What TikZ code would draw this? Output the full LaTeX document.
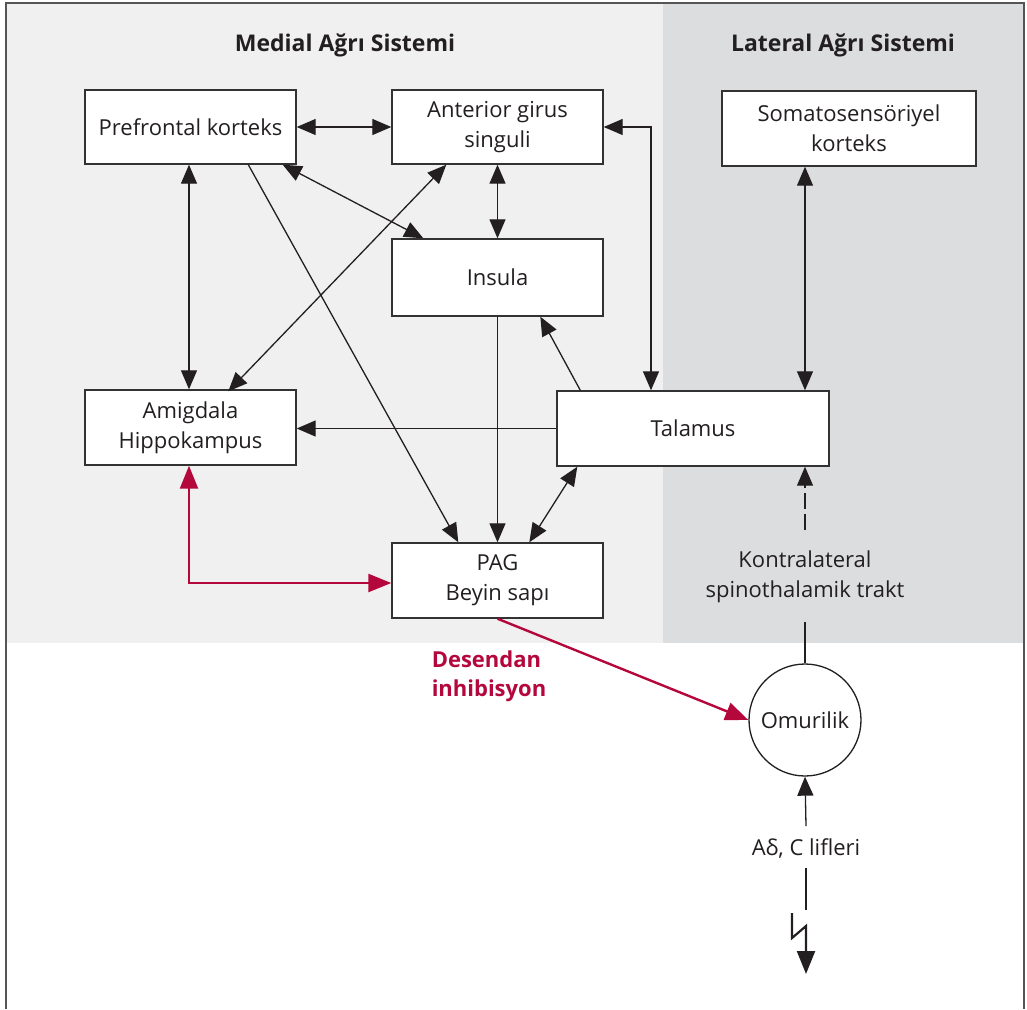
\documentclass[tikz,border=0pt]{standalone}
\usepackage{fontspec}
\setmainfont{Open Sans}
\usetikzlibrary{arrows.meta}
\definecolor{medbg}{RGB}{240,240,240}
\definecolor{latbg}{RGB}{220,221,223}
\definecolor{framec}{RGB}{85,85,85}
\definecolor{boxc}{RGB}{50,50,50}
\definecolor{txt}{RGB}{35,31,32}
\definecolor{redc}{RGB}{180,8,60}
\tikzset{
  boxn/.style={draw=boxc, line width=1.4pt, fill=white, inner sep=0pt, align=center,
    text=txt, font=\fontsize{22}{30}\selectfont},
  lbl/.style={inner sep=0pt, align=center, text=txt, font=\fontsize{22}{30}\selectfont},
  ttl/.style={inner sep=0pt, text=txt, font=\fontsize{23}{28}\selectfont\bfseries},
  con/.style={draw=txt, line width=1.3pt},
  arr/.style={con, -{Triangle[length=19pt,width=16pt]}},
  darr/.style={con, {Triangle[length=19pt,width=16pt]}-{Triangle[length=19pt,width=16pt]}},
  rarr/.style={draw=redc, line width=2.4pt, -{Triangle[length=23pt,width=18pt]}},
  rdarr/.style={draw=redc, line width=2.4pt, {Triangle[length=23pt,width=18pt]}-{Triangle[length=23pt,width=18pt]}},
}
\begin{document}
\begin{tikzpicture}[x=1pt,y=-1pt]
\useasboundingbox (0,0) rectangle (1027,1009);
% backgrounds
\fill[medbg] (6,3) rectangle (663,643);
\fill[latbg] (663,3) rectangle (1024,643);
\draw[framec, line width=2pt] (6,1009) -- (6,3) -- (1024,3) -- (1024,1009);
% titles
\node[ttl] (tmed) at (345,45) {Medial Ağrı Sistemi};
\node[ttl] (tlat) at (843,45) {Lateral Ağrı Sistemi};
% boxes
\node[boxn, minimum width=211pt, minimum height=74pt] (pfk) at (190.5,127) {Prefrontal korteks};
\node[boxn, minimum width=211pt, minimum height=74pt] (agc) at (497.5,127) {Anterior girus\\singuli};
\node[boxn, minimum width=254pt, minimum height=75pt] (som) at (849,128.5) {Somatosensöriyel\\korteks};
\node[boxn, minimum width=211pt, minimum height=77pt] (ins) at (497.5,277.5) {Insula};
\node[boxn, minimum width=211pt, minimum height=75pt] (amy) at (190.5,427.5) {Amigdala\\Hippokampus};
\node[boxn, minimum width=272pt, minimum height=75pt] (tal) at (693,428.5) {Talamus};
\node[boxn, minimum width=211pt, minimum height=75pt] (pag) at (497.5,580.5) {PAG\\Beyin sapı};
\node[draw=txt, line width=1.3pt, fill=white, circle, minimum size=112pt, inner sep=0pt,
  text=txt, font=\fontsize{22}{30}\selectfont] (omu) at (805,720) {Omurilik};
% labels
\node[lbl] (ktr) at (805,577) {Kontralateral\\spinothalamik trakt};
\node[lbl] (afib) at (806,848) {Aδ, C lifleri};
\node[inner sep=0pt, align=left, text=redc, font=\fontsize{22}{29}\selectfont\bfseries] (desc) at (489,676) {Desendan\\inhibisyon};
% coordinates
\coordinate (k1) at (805,530);
\coordinate (k2) at (805,622);
\coordinate (a1) at (806,826);
\coordinate (a2) at (806,868);
\coordinate (a3) at (806,910);
\coordinate (z1) at (792,913);
\coordinate (z2) at (792,938);
\coordinate (z3) at (806,926);
\coordinate (z4) at (806,974);
% black connectors
\draw[darr] (pfk.east) -- (agc.west);
\draw[darr] ([xshift=-1.5pt]pfk.south) -- ([xshift=-1.5pt]amy.north);
\draw[arr] ([xshift=164pt]pfk.south west) -- ([xshift=67pt]pag.north west);
\draw[darr] ([xshift=-14pt]pfk.south east) -- ([xshift=32pt]ins.north west);
\draw[darr] ([xshift=55pt]agc.south west) -- ([xshift=144pt,yshift=-2pt]amy.north west);
\draw[darr] (agc.south) -- (ins.north);
\draw[darr] (agc.east) -| ([xshift=-42pt]tal.north);
\draw[arr] ([xshift=24pt]tal.north west) -- ([xshift=149pt]ins.south west);
\draw[arr] (tal.west) -- (tal.west -| amy.east);
\draw[darr] ([xshift=21pt]tal.south west) -- ([xshift=138pt]pag.north west);
\draw[arr] (ins.south) -- (pag.north);
\draw[darr] (som.south -| omu.north) -- (tal.north -| omu.north);
% spinothalamic
\draw[con] (omu.north) -- (k2);
\draw[arr, dash pattern=on 16pt off 5pt] (k1) -- (tal.south -| omu.north);
% fibres
\draw[arr] (a1) -- (omu.south);
\draw[con] (a2) -- (a3);
\draw[draw=txt, line width=2.2pt, line join=miter, -{Triangle[length=23pt,width=18pt]}] (z1) -- (z2) -- (z3) -- (z4);
% red connectors
\draw[rdarr] ([xshift=-1.5pt]amy.south) |- ([yshift=-2.5pt]pag.west);
\draw[rarr] (pag.south) -- (omu.west);
\end{tikzpicture}
\end{document}
